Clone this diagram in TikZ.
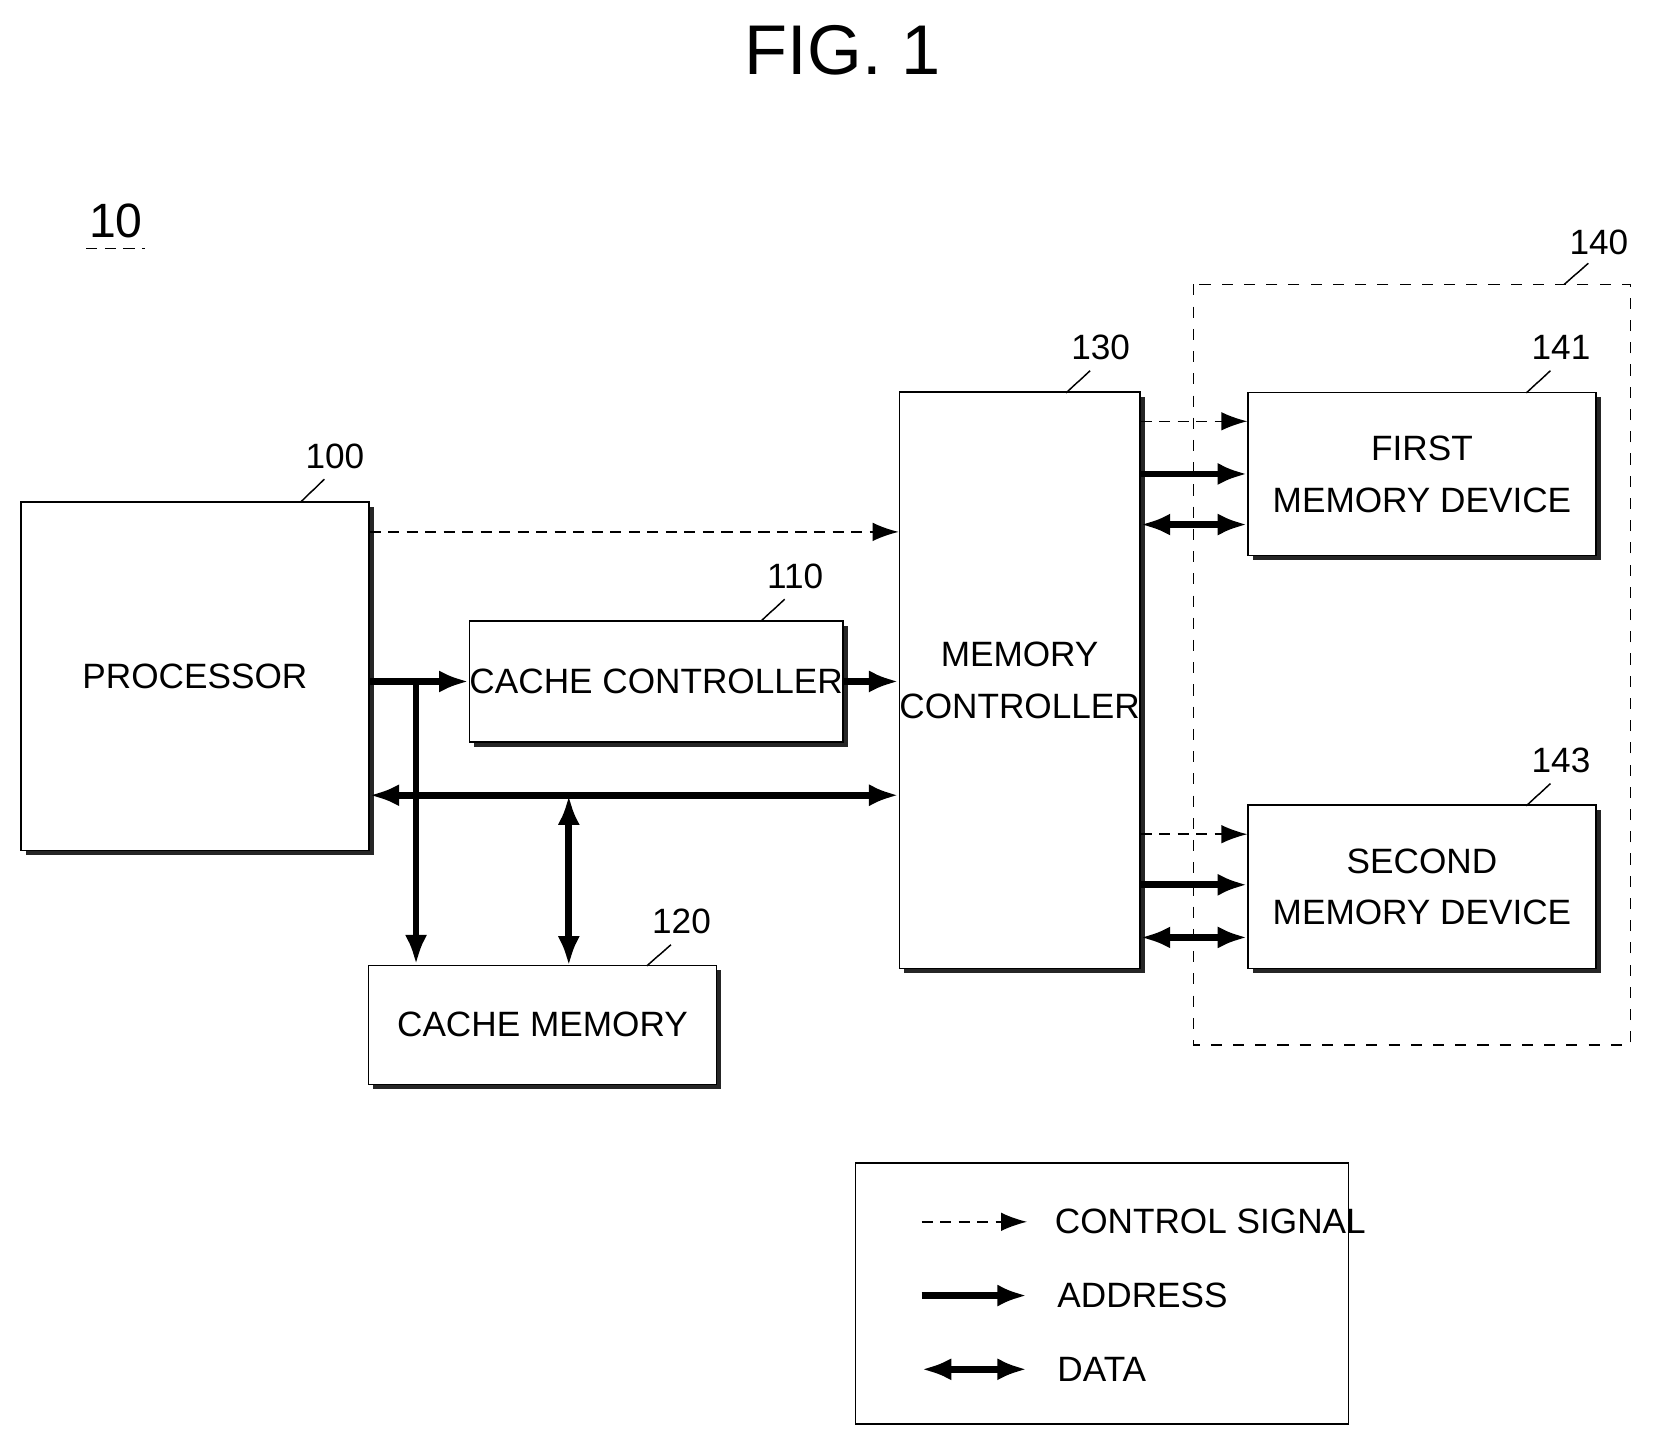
\documentclass[tikz,border=0pt]{standalone}
\usepackage{fontspec}
\setmainfont{Liberation Sans}
\usetikzlibrary{positioning,shadows,arrows.meta,calc}

\tikzset{
	blk/.style={draw,thin,fill=white,align=center,inner sep=0pt,font=\fontsize{9.5}{14}\selectfont,
		drop shadow={shadow xshift=0.045cm,shadow yshift=-0.045cm,fill=black!85,opacity=1}},
	ctrl/.style={densely dashed,thin,-{Latex[length=7pt,width=5pt]}},
	addr/.style={line width=1.8pt,-{Latex[length=8pt,width=6pt]}},
	dat/.style={line width=1.8pt,{Latex[length=8pt,width=6pt]}-{Latex[length=8pt,width=6pt]}},
	ref/.style={font=\fontsize{9.5}{11}\selectfont},
}
% small wavy leader from a box corner to its reference number
\newcommand{\leader}[2]{\draw[thin] (#1) .. controls +(0.05,0.25) and +(-0.2,-0.1) .. ($(#1)!0.5!(#2)$) .. controls +(0.2,0.1) and +(-0.05,-0.25) .. (#2);}

\begin{document}
\begin{tikzpicture}[x=0.01cm,y=-0.01cm]
	\useasboundingbox (0,0) rectangle (1576,1380);
	% title and figure number
	\node (title) at (800,48) {\fontsize{19}{22}\selectfont FIG. 1};
	\node[font=\fontsize{13}{16}\selectfont] (fig) at (110,210) {10};
	\draw[densely dashed] (82,236) -- (138,236);
	% memory group
	\draw[dashed] (1133,270) rectangle (1548,992);
	\node[ref] (l140) at (1518,230) {140};
	\leader{1485,270}{1508,250}
	% blocks
	\node[blk,minimum width=3.3cm,minimum height=3.31cm] (proc) at (185,642) {PROCESSOR};
	\node[blk,minimum width=3.3cm,minimum height=1.15cm] (cctl) at (623,647) {CACHE CONTROLLER};
	\node[blk,minimum width=3.3cm,minimum height=1.13cm] (cmem) at (515,973) {CACHE MEMORY};
	\node[blk,minimum width=2.2cm,minimum height=5.47cm] (mctl) at (968,646) {MEMORY\\CONTROLLER};
	\node[blk,minimum width=3.3cm,minimum height=1.55cm] (dev1) at (1350,450) {FIRST\\MEMORY DEVICE};
	\node[blk,minimum width=3.3cm,minimum height=1.55cm] (dev2) at (1350,842) {SECOND\\MEMORY DEVICE};
	% reference numbers
	\node[ref] (l100) at (318,433) {100};
	\leader{285,477}{308,455}
	\node[ref] (l110) at (755,547) {110};
	\leader{722,590}{745,569}
	\node[ref] (l120) at (647,875) {120};
	\leader{614,917}{637,897}
	\node[ref] (l130) at (1045,330) {130};
	\leader{1012,373}{1035,352}
	\node[ref] (l141) at (1482,330) {141};
	\leader{1449,373}{1472,352}
	\node[ref] (l143) at (1482,722) {143};
	\leader{1449,765}{1472,744}
	% processor side connections
	\draw[ctrl] (proc.east |- 0,505) -- (mctl.west |- 0,505);
	\draw[addr] (proc.east |- cctl) -- (cctl.west);
	\draw[addr] (cctl.east) -- (mctl.west |- cctl);
	\coordinate (split) at (395,647);
	\draw[addr] (split) -- (split |- cmem.north);
	\draw[dat] (proc.east |- 0,755) -- (mctl.west |- 0,755);
	\draw[dat] (540,755) -- (540,917);
	% memory device connections
	\foreach \dev/\yc/\ya/\yd in {dev1/400/450/498, dev2/792/840/890} {
		\draw[ctrl] (mctl.east |- 0,\yc) -- (\dev.west |- 0,\yc);
		\draw[addr] (mctl.east |- 0,\ya) -- (\dev.west |- 0,\ya);
		\draw[dat] (mctl.east |- 0,\yd) -- (\dev.west |- 0,\yd);
	}
	% legend
	\draw (812,1104) rectangle (1280,1352);
	\coordinate (k1) at (875,1160);
	\coordinate (k2) at (875,1230);
	\coordinate (k3) at (875,1300);
	\draw[ctrl] (k1) -- ++(100,0) node[right=4pt,font=\fontsize{9.5}{11}\selectfont] (t1) {CONTROL SIGNAL};
	\draw[addr] (k2) -- ++(100,0) node[right=4pt,font=\fontsize{9.5}{11}\selectfont] (t2) {ADDRESS};
	\draw[dat] (k3) -- ++(100,0) node[right=4pt,font=\fontsize{9.5}{11}\selectfont] (t3) {DATA};
\end{tikzpicture}
\end{document}
